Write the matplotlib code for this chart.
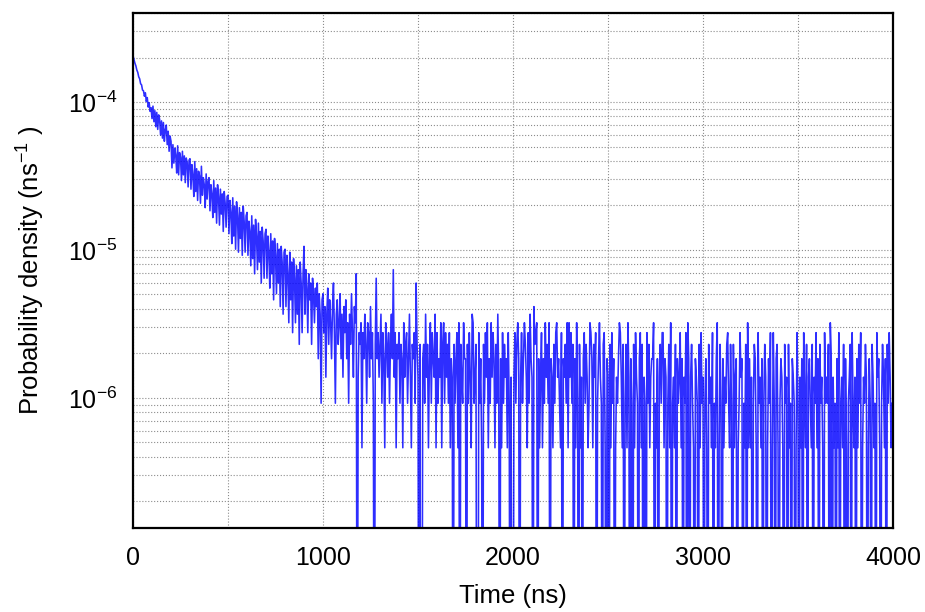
import numpy as np
import matplotlib
matplotlib.use('Agg')
import matplotlib.pyplot as plt
from matplotlib.ticker import MultipleLocator, LogLocator, NullFormatter

plt.rcParams['font.family'] = ['Liberation Sans', 'DejaVu Sans']

# arrival time histogram, 5 ns bins, raw counts per bin
bin_width_ns = 5
density_per_count = 4.6e-7   # one count, in ns^-1

counts_0_1000 = [
    446, 421, 398, 382, 358, 345, 322, 312, 289, 284, 262, 259, 238, 251, 219, 233, 201, 215, 188, 199,
    168, 204, 160, 190, 148, 185, 142, 178, 166, 130, 162, 124, 158, 118, 141, 152, 112, 138, 101, 128,
    118, 78, 112, 84, 106, 95, 72, 110, 70, 99, 92, 64, 101, 70, 94, 62, 91, 85, 58, 88,
    90, 56, 82, 70, 50, 86, 54, 77, 47, 74, 69, 45, 80, 51, 67, 60, 42, 71, 48, 63,
    67, 40, 60, 52, 36, 64, 39, 57, 33, 60, 50, 32, 56, 38, 52, 29, 54, 45, 31, 50,
    51, 28, 47, 39, 24, 49, 27, 43, 22, 46, 37, 21, 42, 26, 39, 20, 43, 34, 21, 37,
    39, 20, 34, 29, 17, 37, 19, 32, 15, 35, 27, 16, 33, 18, 29, 13, 31, 25, 14, 28,
    30, 14, 27, 21, 12, 28, 15, 25, 10, 26, 20, 11, 24, 13, 22, 9, 23, 18, 8, 21,
    22, 9, 20, 15, 7, 21, 10, 18, 6, 19, 14, 7, 17, 8, 16, 5, 18, 13, 6, 15,
    23, 8, 16, 12, 6, 15, 10, 13, 5, 14, 11, 7, 12, 9, 13, 4, 11, 8, 2, 10,
]
counts_1000_1500 = [
    11, 6, 9, 3, 8, 12, 5, 10, 7, 4, 9, 13, 6, 2, 8, 10, 5, 7, 11, 4,
    8, 3, 9, 6, 10, 4, 7, 2, 8, 5, 11, 6, 3, 9, 7, 15, 0, 3, 6, 5,
    7, 1, 6, 4, 8, 5, 2, 7, 6, 3, 9, 4, 6, 2, 0, 5, 14, 4, 6, 3,
    5, 8, 2, 6, 4, 1, 7, 5, 3, 6, 2, 5, 8, 4, 16, 3, 6, 1, 5, 4,
    6, 2, 5, 4, 1, 7, 3, 5, 6, 2, 4, 8, 3, 1, 5, 4, 6, 2, 13, 5,
]
# low-count tail, one digit per bin, 250 ns per string
tail_1500_4000 = [
    "30500452835147264381624371572635261430524617053274",
    "40526318723500624105263714273641528304162534162030",
    "03625740362475316284309567041361427352704315267342",
    "16043527173625041720513046253127641536024732056104",
    "30516240132476315025173042051632046150320625134470",
    "21403526614302517023150423614032607403521043205162",
    "30241052316021470152041325621520513401263402150714",
    "13025410623140253014260162045102431052305120432016",
    "20314062150342150326140523106232507403120416023150",
    "41023506213041526013253014205312063410253140526312",
]

x_ticks = [0, 1000, 2000, 3000, 4000]
x_tick_labels = ['0', '1000', '2000', '3000', '4000']
y_ticks = [1e-4, 1e-5, 1e-6]
y_tick_labels = [r'$\mathdefault{10^{-4}}$', r'$\mathdefault{10^{-5}}$', r'$\mathdefault{10^{-6}}$']

tail_counts = [int(c) for row in tail_1500_4000 for c in row]
counts = np.array(counts_0_1000 + counts_1000_1500 + tail_counts)
t = np.arange(len(counts)) * bin_width_ns
# empty bins: push below the axis so the line drops to the bottom edge
density = np.where(counts > 0, counts * density_per_count, 1e-9)

fig = plt.figure(figsize=(9.25, 6.12), dpi=100)
ax = fig.add_axes([0.1438, 0.1373, 0.8216, 0.8415])

ax.plot(t, density, color='#0000ff', lw=1.15, alpha=0.82)

ax.set_yscale('log')
ax.set_xlim(0, 4000)
ax.set_ylim(1.32e-7, 4e-4)

ax.set_xticks(x_ticks, x_tick_labels)
ax.xaxis.set_minor_locator(MultipleLocator(500))
ax.set_yticks(y_ticks, y_tick_labels)
ax.yaxis.set_minor_locator(LogLocator(base=10, subs=np.arange(2, 10)))
ax.yaxis.set_minor_formatter(NullFormatter())

ax.grid(True, which='both', ls=':', color='#8c8c8c', lw=0.8)
ax.set_axisbelow(True)
ax.tick_params(which='both', length=0, labelsize=18)
ax.tick_params(axis='x', pad=13)
ax.tick_params(axis='y', pad=11)
for s in ax.spines.values():
    s.set_linewidth(1.6)

ax.set_xlabel('Time (ns)', fontsize=18.5, labelpad=10)
ax.set_ylabel(r'Probability density (ns$^{\mathdefault{-1}}$ )', fontsize=18.5, labelpad=16)

fig.savefig('out.png', dpi=100)
